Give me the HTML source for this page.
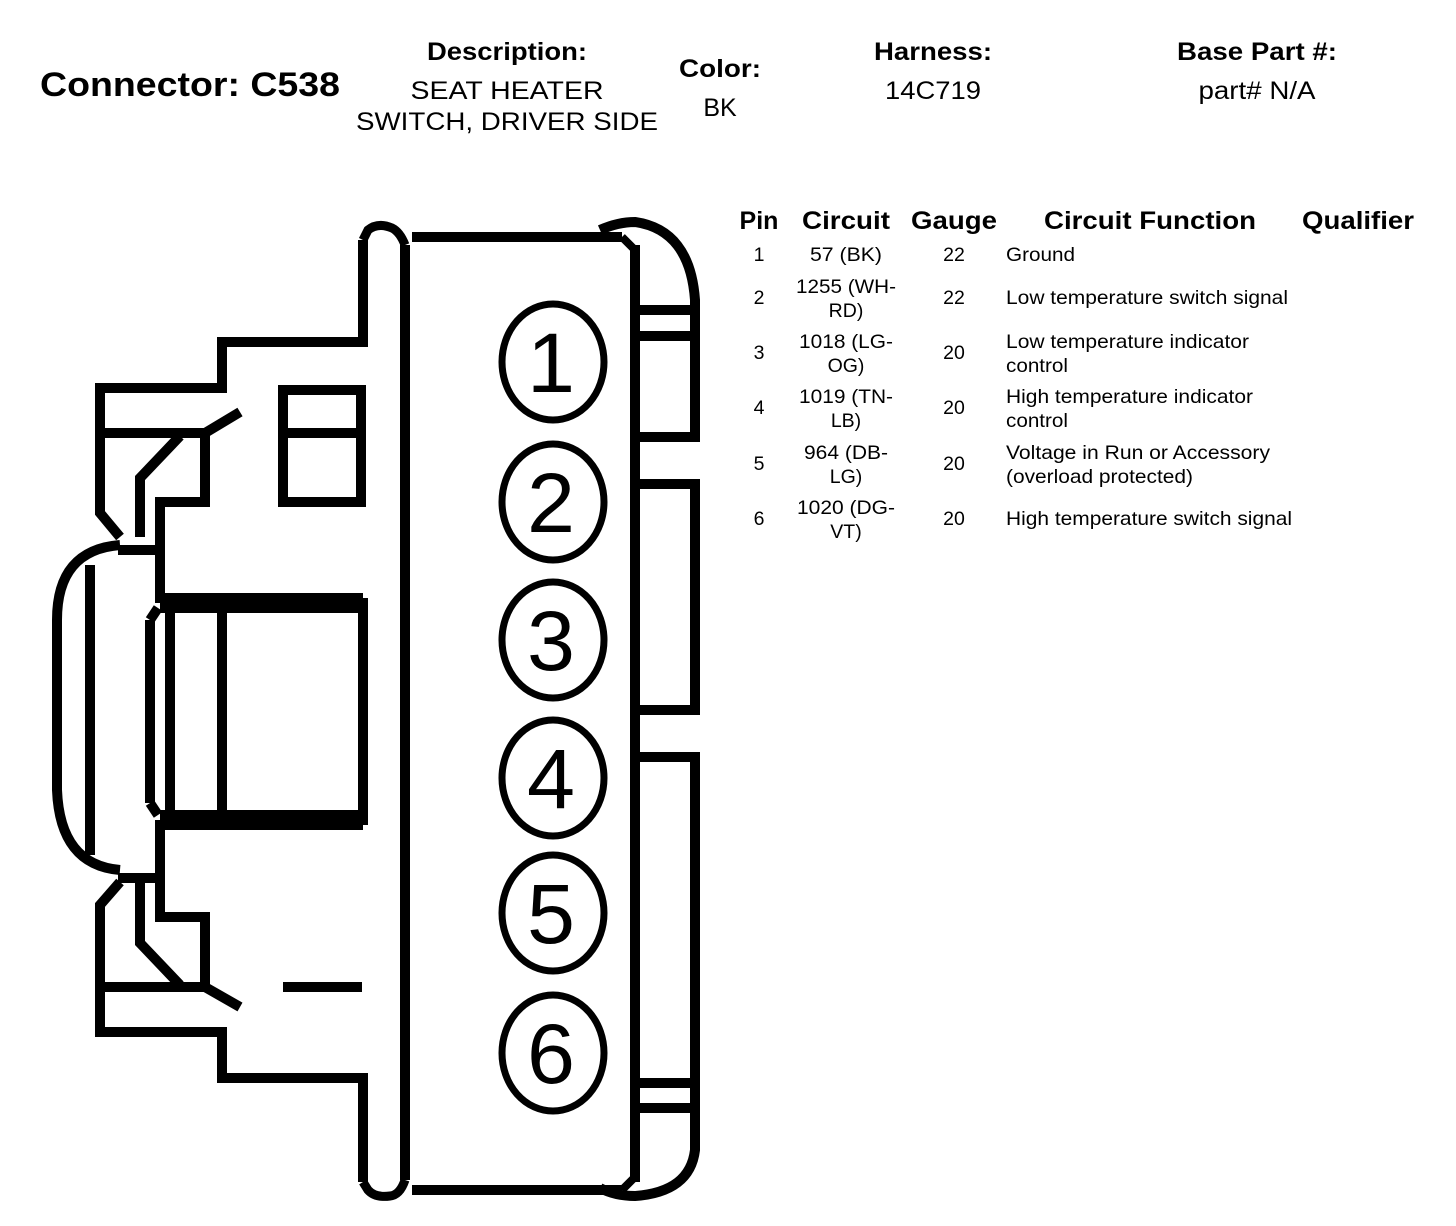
<!DOCTYPE html>
<html><head><meta charset="utf-8"><style>html,body{margin:0;padding:0;background:#fff}svg{display:block}</style></head>
<body>
<svg width="1456" height="1226" viewBox="0 0 1456 1226" xmlns="http://www.w3.org/2000/svg" font-family="Liberation Sans, Arial, sans-serif">
<g fill="#000">
<text x="40" y="96" font-size="34" font-weight="bold" textLength="300" lengthAdjust="spacingAndGlyphs">Connector: C538</text>
<text x="507" y="60" font-size="25" font-weight="bold" text-anchor="middle" textLength="160" lengthAdjust="spacingAndGlyphs">Description:</text>
<text x="507" y="99" font-size="25" text-anchor="middle" textLength="193" lengthAdjust="spacingAndGlyphs">SEAT HEATER</text>
<text x="507" y="130" font-size="25" text-anchor="middle" textLength="302" lengthAdjust="spacingAndGlyphs">SWITCH, DRIVER SIDE</text>
<text x="720" y="77" font-size="25" font-weight="bold" text-anchor="middle" textLength="82" lengthAdjust="spacingAndGlyphs">Color:</text>
<text x="720" y="116" font-size="25" text-anchor="middle">BK</text>
<text x="933" y="60" font-size="25" font-weight="bold" text-anchor="middle" textLength="118" lengthAdjust="spacingAndGlyphs">Harness:</text>
<text x="933" y="99" font-size="25" text-anchor="middle" textLength="96" lengthAdjust="spacingAndGlyphs">14C719</text>
<text x="1257" y="60" font-size="25" font-weight="bold" text-anchor="middle" textLength="160" lengthAdjust="spacingAndGlyphs">Base Part #:</text>
<text x="1257" y="99" font-size="25" text-anchor="middle" textLength="117" lengthAdjust="spacingAndGlyphs">part# N/A</text>

<g font-size="25" font-weight="bold" text-anchor="middle">
<text x="759" y="229">Pin</text>
<text x="846" y="229" textLength="88" lengthAdjust="spacingAndGlyphs">Circuit</text>
<text x="954" y="229" textLength="86" lengthAdjust="spacingAndGlyphs">Gauge</text>
<text x="1150" y="229" textLength="212" lengthAdjust="spacingAndGlyphs">Circuit Function</text>
<text x="1358" y="229" textLength="112" lengthAdjust="spacingAndGlyphs">Qualifier</text>
</g>
<g font-size="19.5">
<g text-anchor="middle">
<text x="759" y="261">1</text><text x="846" y="261" textLength="72" lengthAdjust="spacingAndGlyphs">57 (BK)</text><text x="954" y="261">22</text>
<text x="759" y="304">2</text><text x="846" y="293" textLength="100" lengthAdjust="spacingAndGlyphs">1255 (WH-</text><text x="846" y="317">RD)</text><text x="954" y="304">22</text>
<text x="759" y="359">3</text><text x="846" y="348" textLength="94" lengthAdjust="spacingAndGlyphs">1018 (LG-</text><text x="846" y="372">OG)</text><text x="954" y="359">20</text>
<text x="759" y="414">4</text><text x="846" y="403" textLength="94" lengthAdjust="spacingAndGlyphs">1019 (TN-</text><text x="846" y="427">LB)</text><text x="954" y="414">20</text>
<text x="759" y="470">5</text><text x="846" y="459" textLength="84" lengthAdjust="spacingAndGlyphs">964 (DB-</text><text x="846" y="483">LG)</text><text x="954" y="470">20</text>
<text x="759" y="525">6</text><text x="846" y="514" textLength="98" lengthAdjust="spacingAndGlyphs">1020 (DG-</text><text x="846" y="538">VT)</text><text x="954" y="525">20</text>
</g>
<text x="1006" y="261" textLength="69" lengthAdjust="spacingAndGlyphs">Ground</text>
<text x="1006" y="304" textLength="282" lengthAdjust="spacingAndGlyphs">Low temperature switch signal</text>
<text x="1006" y="348" textLength="243" lengthAdjust="spacingAndGlyphs">Low temperature indicator</text><text x="1006" y="372" textLength="62" lengthAdjust="spacingAndGlyphs">control</text>
<text x="1006" y="403" textLength="247" lengthAdjust="spacingAndGlyphs">High temperature indicator</text><text x="1006" y="427" textLength="62" lengthAdjust="spacingAndGlyphs">control</text>
<text x="1006" y="459" textLength="264" lengthAdjust="spacingAndGlyphs">Voltage in Run or Accessory</text><text x="1006" y="483" textLength="187" lengthAdjust="spacingAndGlyphs">(overload protected)</text>
<text x="1006" y="525" textLength="286" lengthAdjust="spacingAndGlyphs">High temperature switch signal</text>
</g>
</g>

<g fill="none" stroke="#000" stroke-width="10">
<path d="M405 245 V1180 M412 237 H622 M412 1190 H622 M635 245 V1182"/>
<path d="M405 245 Q400 232 392 228 Q378 222 368 230 L363 240 M405 1180 Q400 1195 390 1196 Q375 1198 368 1190 L363 1182" stroke-width="9"/>
<path d="M600 230 Q618 222 635 222 Q690 230 695 300 V437 H635 M635 310 H695 M635 336 H695"/>
<path d="M635 484 H695 V710 H635 M635 757 H695 V1080 M635 1083 H695 M635 1108 H695 M695 1080 V1150 Q690 1192 635 1196 Q615 1196 600 1188"/>
<path d="M622 237 L635 250 M622 1190 L635 1177" stroke-width="8"/>
<path d="M363 240 V342 H222 V388 H100 V513 L120 537"/>
<path d="M100 433 H205 L240 412"/>
<path d="M205 433 V502 H160 V603"/>
<path d="M180 436 L140 478 V537"/>
<path d="M118 550 H160"/>
<path d="M120 545 Q57 550 57 620 V790 Q60 865 120 870"/>
<path d="M90 565 V855"/>
<path d="M160 603 H363 V820 H160 M160 820 V917 H205 V987"/>
<path d="M170 603 V820 M222 603 V820"/>
<path d="M150 620 V803 M150 620 L158 608 M150 803 L158 815"/>
<path d="M118 878 H160"/>
<path d="M140 880 V943 L180 985 M120 882 L100 905 V1032 H222 V1078 H363 V1182"/>
<path d="M100 987 H205 L240 1007"/>
<path d="M283 987 H362"/>
<rect x="283" y="390" width="78" height="112"/>
<path d="M283 433 H361"/>
</g>
<path d="M160 593 H363 V613 H160 Z M160 810 H363 V830 H160 Z" fill="#000"/>

<g fill="none" stroke="#000" stroke-width="7">
<ellipse cx="553" cy="362" rx="51" ry="58"/>
<ellipse cx="553" cy="502" rx="51" ry="58"/>
<ellipse cx="553" cy="640" rx="51" ry="58"/>
<ellipse cx="553" cy="778" rx="51" ry="58"/>
<ellipse cx="553" cy="913" rx="51" ry="58"/>
<ellipse cx="553" cy="1053" rx="51" ry="58"/>
</g>
<g font-size="84" text-anchor="middle" fill="#000">
<text x="551" y="392" textLength="48" lengthAdjust="spacingAndGlyphs">1</text>
<text x="551" y="532" textLength="48" lengthAdjust="spacingAndGlyphs">2</text>
<text x="551" y="670" textLength="48" lengthAdjust="spacingAndGlyphs">3</text>
<text x="551" y="808" textLength="48" lengthAdjust="spacingAndGlyphs">4</text>
<text x="551" y="943" textLength="48" lengthAdjust="spacingAndGlyphs">5</text>
<text x="551" y="1083" textLength="48" lengthAdjust="spacingAndGlyphs">6</text>
</g>
</svg>
</body></html>
